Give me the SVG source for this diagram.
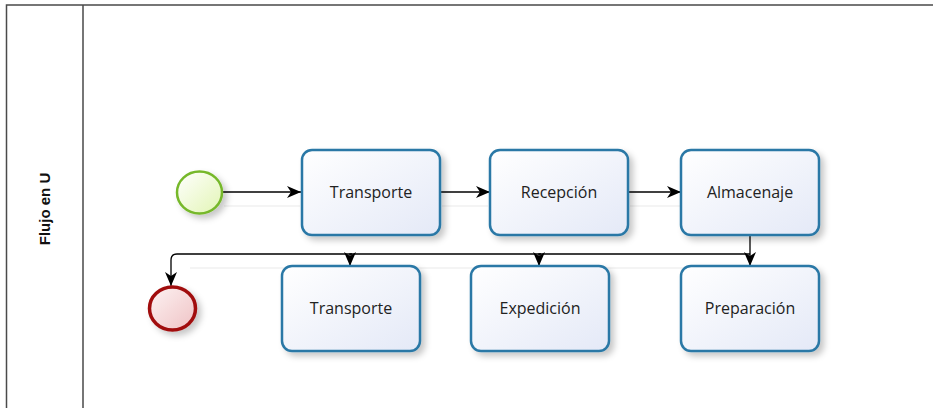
<svg xmlns="http://www.w3.org/2000/svg" width="933" height="408" viewBox="0 0 933 408">
<style>
.task rect{fill:url(#tg);stroke:#2a78a6;stroke-width:2.5;filter:url(#sh)}
.task text{font-family:"Open Sans","Noto Sans","DejaVu Sans",sans-serif;font-size:16px;fill:#222;text-anchor:middle;dominant-baseline:central}
.conn{fill:none;stroke:#000;stroke-width:1.3;marker-end:url(#ah)}
.cshadow{fill:none;stroke:#f1f1f1;stroke-width:1.5}
</style>
<defs>
<linearGradient id="tg" x1="0" y1="0" x2="1" y2="1"><stop offset="0" stop-color="#ffffff"/><stop offset="1" stop-color="#e4e9f7"/></linearGradient>
<linearGradient id="sg" x1="0" y1="0" x2="1" y2="1"><stop offset="0" stop-color="#ffffff"/><stop offset="1" stop-color="#e2f5b4"/></linearGradient>
<linearGradient id="eg" x1="0" y1="0" x2="1" y2="1"><stop offset="0" stop-color="#fdf3f3"/><stop offset="1" stop-color="#efc2c4"/></linearGradient>
<filter id="sh" x="-20%" y="-20%" width="150%" height="150%"><feDropShadow dx="4" dy="4" stdDeviation="3" flood-color="#000" flood-opacity="0.22"/></filter>
<marker id="ah" viewBox="0 0 14 12" refX="14" refY="6" markerWidth="14" markerHeight="12" markerUnits="userSpaceOnUse" orient="auto"><path d="M0,0 L14,6 L0,12 L4,6 Z" fill="#000"/></marker>
</defs>
<g id="pool">
<path d="M933,5 H6.5 V408 M83,5 V408" fill="none" stroke="#4a4a4a" stroke-width="1.5"/>
<text transform="translate(44,209) rotate(-90)" font-family="Liberation Sans,Arial,sans-serif" font-weight="bold" font-size="15" fill="#111" text-anchor="middle" dominant-baseline="central">Flujo en U</text>
</g>
<g id="connectors">
<path class="cshadow" d="M224,206 H300 M442,206 H488 M630,206 H680 M190,268 H745"/>
<path class="conn" d="M222,192 H301"/>
<path class="conn" d="M440,192 H490"/>
<path class="conn" d="M628,192 H681"/>
<path class="conn" d="M750,235 V266"/>
<path class="conn" d="M750,254 H177 Q171,254 171,260 V286"/>
<path class="conn" d="M352,254 H350 V266"/>
<path class="conn" d="M541,254 H539 V266"/>
</g>
<g id="start"><ellipse cx="199.5" cy="192.5" rx="22.5" ry="21" fill="url(#sg)" stroke="#76b82a" stroke-width="2.5" filter="url(#sh)"/></g>
<g id="end"><ellipse cx="172.5" cy="308.5" rx="23" ry="21.5" fill="url(#eg)" stroke="#a10d10" stroke-width="3.5" filter="url(#sh)"/></g>
<g id="t1" class="task"><rect x="302" y="150" width="138" height="85" rx="10"/><text x="371" y="192">Transporte</text></g>
<g id="t2" class="task"><rect x="490" y="150" width="138" height="85" rx="10"/><text x="559" y="192">Recepción</text></g>
<g id="t3" class="task"><rect x="681" y="150" width="138" height="85" rx="10"/><text x="750" y="192">Almacenaje</text></g>
<g id="t4" class="task"><rect x="282" y="266" width="138" height="85" rx="10"/><text x="351" y="308">Transporte</text></g>
<g id="t5" class="task"><rect x="471" y="266" width="138" height="85" rx="10"/><text x="540" y="308">Expedición</text></g>
<g id="t6" class="task"><rect x="681" y="266" width="138" height="85" rx="10"/><text x="750" y="308">Preparación</text></g>
</svg>
